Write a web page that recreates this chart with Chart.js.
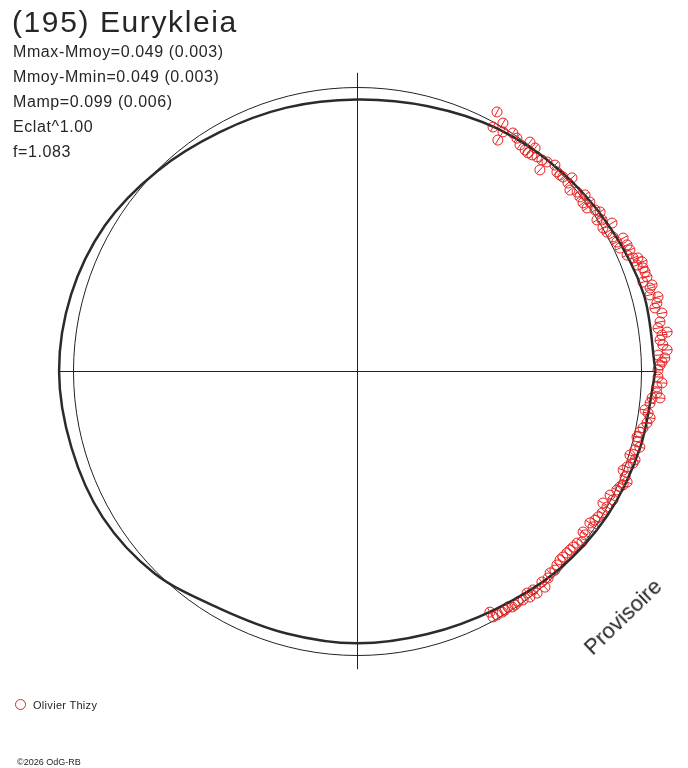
<!DOCTYPE html>
<html lang="fr">
<head>
<meta charset="utf-8">
<title>(195) Eurykleia</title>
<script src="https://cdn.jsdelivr.net/npm/chart.js@4.4.1/dist/chart.umd.min.js"></script>
<style>
  html, body { margin: 0; padding: 0; background: #fff; }
  .sheet { position: relative; width: 688px; height: 768px; overflow: hidden; font-family: "Liberation Sans", Arial, sans-serif; color: #262626; }
  .chart-box { position: absolute; left: 0; top: 0; width: 688px; height: 768px; }
  .title { position: absolute; left: 12px; top: 7px; font-size: 30px; line-height: 30px; letter-spacing: 1.6px; white-space: nowrap; }
  .stats { position: absolute; left: 13px; top: 39px; font-size: 16px; line-height: 25px; letter-spacing: 0.6px; white-space: nowrap; }
  .legend-mark { position: absolute; left: 15px; top: 699px; width: 11px; height: 11px; box-sizing: border-box; border: 1.2px solid #e82020; border-radius: 50%; }
  .legend-text { position: absolute; left: 33px; top: 700px; font-size: 11px; line-height: 11px; letter-spacing: 0.3px; white-space: nowrap; }
  .copyright { position: absolute; left: 17px; top: 758px; font-size: 9px; line-height: 9px; white-space: nowrap; }
  .stamp { position: absolute; left: 623px; top: 617px; width: 140px; font-size: 22px; line-height: 22px; text-align: center; white-space: nowrap; transform: translate(-50%, -50%) rotate(-44deg); }
</style>
</head>
<body>
<div class="sheet">
  <div class="chart-box"><canvas id="polarCurve"></canvas></div>
  <div class="title">(195) Eurykleia</div>
  <div class="stats">
    <div>Mmax-Mmoy=0.049 (0.003)</div>
    <div>Mmoy-Mmin=0.049 (0.003)</div>
    <div>Mamp=0.099 (0.006)</div>
    <div>Eclat^1.00</div>
    <div>f=1.083</div>
  </div>
  <span class="legend-mark"></span>
  <div class="legend-text">Olivier Thizy</div>
  <div class="copyright">©2026 OdG-RB</div>
  <div class="stamp">Provisoire</div>
</div>
<script>
// model curve: relative radius read every 15 degrees of rotation phase
const modelPhaseDeg = [0, 15, 30, 45, 60, 75, 90, 105, 120, 135, 150, 165,
  180, 195, 210, 225, 240, 255, 270, 285, 300, 315, 330, 345];
const modelRadius = [1.051, 1.045, 1.024, 1.004, 0.986, 0.965, 0.956, 0.960, 0.970, 0.995, 1.025, 1.042,
  1.049, 1.041, 1.033, 1.008, 0.966, 0.957, 0.959, 0.959, 0.970, 0.996, 1.018, 1.033];

// observations (Olivier Thizy), in units of the reference circle
const obsX = [
  0.493, 0.514, 0.479, 0.514, 0.549, 0.563, 0.496, 0.609, 0.574, 0.627,
  0.592, 0.602, 0.616, 0.634, 0.651, 0.669, 0.697, 0.644, 0.704, 0.715,
  0.725, 0.757, 0.743, 0.750, 0.775, 0.803, 0.785, 0.820, 0.796, 0.810,
  0.838, 0.856, 0.845, 0.863, 0.898, 0.866, 0.880, 0.901, 0.937, 0.915,
  0.951, 0.926, 0.961, 0.951, 0.972, 0.989, 1.004, 0.986, 1.007, 1.014,
  1.021, 1.007, 1.039, 1.032, 1.032, 1.060, 1.056, 1.049, 1.074, 1.067,
  1.060, 1.092, 1.074, 1.067, 1.077, 1.092, 1.060, 1.084, 1.074, 1.067,
  1.060, 1.060, 1.074, 1.056, 1.056, 1.067, 1.039, 1.032, 1.014, 1.025,
  1.032, 1.021, 1.007, 0.996, 0.986, 0.989, 0.996, 0.979, 0.961, 0.979,
  0.972, 0.951, 0.937, 0.944, 0.951, 0.937, 0.926, 0.915, 0.891, 0.901,
  0.866, 0.880, 0.863, 0.849, 0.838, 0.820, 0.831, 0.796, 0.803, 0.792,
  0.775, 0.761, 0.750, 0.739, 0.725, 0.715, 0.704, 0.697, 0.680, 0.673,
  0.651, 0.662, 0.620, 0.634, 0.599, 0.609, 0.585, 0.567, 0.556, 0.532,
  0.546, 0.521, 0.511, 0.468, 0.493, 0.479
];
const obsY = [
  0.912, 0.873, 0.859, 0.842, 0.838, 0.820, 0.813, 0.806, 0.796, 0.785,
  0.778, 0.768, 0.761, 0.754, 0.743, 0.736, 0.725, 0.708, 0.701, 0.690,
  0.683, 0.680, 0.662, 0.637, 0.630, 0.620, 0.613, 0.595, 0.592, 0.574,
  0.567, 0.560, 0.532, 0.532, 0.521, 0.504, 0.489, 0.472, 0.468, 0.454,
  0.444, 0.433, 0.426, 0.408, 0.398, 0.398, 0.384, 0.373, 0.363, 0.349,
  0.331, 0.313, 0.303, 0.292, 0.268, 0.261, 0.239, 0.222, 0.204, 0.173,
  0.151, 0.137, 0.127, 0.109, 0.092, 0.074, 0.056, 0.046, 0.032, 0.021,
  0.004, -0.021, -0.042, -0.056, -0.077, -0.095, -0.095, -0.113, -0.137, -0.148,
  -0.165, -0.183, -0.201, -0.215, -0.232, -0.250, -0.268, -0.278, -0.296, -0.313,
  -0.324, -0.338, -0.349, -0.373, -0.391, -0.401, -0.408, -0.419, -0.437, -0.454,
  -0.465, -0.479, -0.500, -0.514, -0.525, -0.535, -0.549, -0.567, -0.577, -0.602,
  -0.606, -0.620, -0.630, -0.641, -0.655, -0.665, -0.683, -0.701, -0.711, -0.729,
  -0.743, -0.761, -0.771, -0.782, -0.782, -0.796, -0.806, -0.813, -0.824, -0.831,
  -0.831, -0.842, -0.849, -0.849, -0.859, -0.866
];

const refRadius = 1;
const axisHalfLength = 1.05;
const viewX = [-1.257, 1.1655];
const viewY = [-1.3979, 1.3063];

const inkColor = "#222222";
const obsColor = "#e82020";

function buildModelPoints() {
  const pts = modelPhaseDeg.map((deg, i) => {
    const a = (deg * Math.PI) / 180;
    return { x: modelRadius[i] * Math.cos(a), y: modelRadius[i] * Math.sin(a) };
  });
  pts.push({ ...pts[0] });
  return pts;
}

const polarFrame = {
  id: "polarFrame",
  beforeDatasetsDraw(chart) {
    const { ctx } = chart;
    const { x, y } = chart.scales;
    const cx = Math.round(x.getPixelForValue(0)) + 0.5;
    const cy = Math.round(y.getPixelForValue(0)) + 0.5;
    const r = x.getPixelForValue(refRadius) - x.getPixelForValue(0);

    ctx.save();
    ctx.strokeStyle = inkColor;
    ctx.lineWidth = 1;
    ctx.beginPath();
    ctx.moveTo(x.getPixelForValue(-axisHalfLength), cy);
    ctx.lineTo(x.getPixelForValue(axisHalfLength), cy);
    ctx.moveTo(cx, y.getPixelForValue(axisHalfLength));
    ctx.lineTo(cx, y.getPixelForValue(-axisHalfLength));
    ctx.stroke();
    ctx.beginPath();
    ctx.arc(cx, cy, r, 0, Math.PI * 2);
    ctx.stroke();
    ctx.restore();
  },
  afterDatasetsDraw(chart) {
    // radial error ticks through each observation circle
    const { ctx } = chart;
    const { x, y } = chart.scales;
    const cx = x.getPixelForValue(0);
    const cy = y.getPixelForValue(0);
    const meta = chart.getDatasetMeta(1);

    ctx.save();
    ctx.strokeStyle = obsColor;
    ctx.lineWidth = 1;
    ctx.beginPath();
    meta.data.forEach((pt) => {
      const dx = pt.x - cx;
      const dy = pt.y - cy;
      const d = Math.hypot(dx, dy) || 1;
      const ux = (dx / d) * 5;
      const uy = (dy / d) * 5;
      ctx.moveTo(pt.x - ux, pt.y - uy);
      ctx.lineTo(pt.x + ux, pt.y + uy);
    });
    ctx.stroke();
    ctx.restore();
  },
};

function initPolarChart() {
  if (typeof Chart === "undefined") return;
  const canvas = document.getElementById("polarCurve");
  if (!canvas) return;

  new Chart(canvas, {
    type: "scatter",
    data: {
      datasets: [
        {
          label: "Modèle",
          data: buildModelPoints(),
          showLine: true,
          borderColor: "#2b2b2b",
          borderWidth: 2.5,
          pointRadius: 0,
          tension: 0.33,
          fill: false,
        },
        {
          label: "Olivier Thizy",
          data: obsX.map((v, i) => ({ x: v, y: obsY[i] })),
          pointStyle: "circle",
          pointRadius: 5,
          pointBorderWidth: 1,
          pointBorderColor: obsColor,
          pointBackgroundColor: "rgba(255,255,255,0)",
        },
      ],
    },
    options: {
      responsive: true,
      maintainAspectRatio: false,
      animation: false,
      events: [],
      layout: { padding: 0, autoPadding: false },
      plugins: {
        legend: { display: false },
        tooltip: { enabled: false },
      },
      scales: {
        x: { type: "linear", min: viewX[0], max: viewX[1], display: false },
        y: { type: "linear", min: viewY[0], max: viewY[1], display: false },
      },
    },
    plugins: [polarFrame],
  });
}

if (document.readyState === "loading") {
  document.addEventListener("DOMContentLoaded", initPolarChart);
} else {
  initPolarChart();
}
</script>
</body>
</html>
